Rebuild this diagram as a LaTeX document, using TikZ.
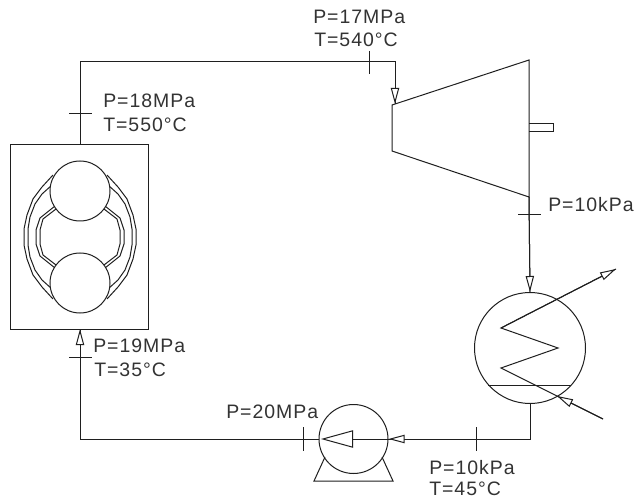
\documentclass[tikz,border=0pt]{standalone}
\usepackage{fontspec}
\setmainfont{Liberation Sans}[LetterSpace=5]
\usetikzlibrary{arrows.meta}
\definecolor{ink}{gray}{0.12}
\definecolor{labink}{gray}{0.2}
\tikzset{
  pipe/.style={draw=ink,line width=0.75pt,line join=miter},
  tick/.style={draw=ink,line width=0.75pt},
  flowtip/.style={pipe,-{Triangle[open,length=12pt,width=6.2pt,fill=white]}},
  vessel/.style={circle,draw=ink,line width=0.75pt,inner sep=0pt,minimum size=#1,fill=white},
  lab/.style={anchor=base west,inner sep=0pt,font=\fontsize{14.6pt}{16pt}\selectfont,text=labink},
}
\begin{document}
\begin{tikzpicture}[x=0.75pt,y=-0.75pt]
\useasboundingbox (0,0) rectangle (636,499);
\fill[white] (0,0) rectangle (636,499);

% named points
\coordinate (bTop) at (80,145);
\coordinate (bBot) at (80,329);
\coordinate (cTL) at (80,62);
\coordinate (cTR) at (395,62);
\coordinate (tIn) at (395,104);
\coordinate (tA) at (392,105);
\coordinate (tB) at (529,60);
\coordinate (tC) at (529,197);
\coordinate (tD) at (392,151);
\coordinate (cBR) at (530,439);
\coordinate (cBL) at (80,439);
\coordinate (pTip) at (321,439);
\coordinate (pBase) at (352,439);

% boiler
\node[draw=ink,line width=0.75pt,inner sep=0pt,minimum width=103pt,minimum height=138pt] (boiler) at (79.5,237) {};
\draw[ink,line width=1.2pt] (boiler.south west) -- (boiler.south east);
\foreach \s in {1,-1}{
  \begin{scope}[shift={(80,237)},xscale=\s]
    \draw[pipe] (-27,-62) -- (-38,-50) -- (-47,-38) -- (-53,-22) -- (-56,-8) -- (-56,8) -- (-53,22) -- (-47,38) -- (-38,50) -- (-27,62);
    \draw[pipe] (-28,-52) -- (-38,-43) -- (-45,-33) -- (-50,-20) -- (-52,-8) -- (-52,8) -- (-50,20) -- (-45,33) -- (-38,43) -- (-28,52);
    \draw[pipe] (-25,-31) -- (-40,-19) -- (-44,-7) -- (-44,7) -- (-40,19) -- (-25,31);
    \draw[pipe] (-24,-28) -- (-37,-18) -- (-40,-7) -- (-40,7) -- (-37,18) -- (-24,28);
  \end{scope}
}
\node[vessel=45pt] (drumA) at (80,191) {};
\node[vessel=45pt] (drumB) at (80,283) {};

% turbine
\draw[pipe] (tA) -- (tB) -- (tC) -- (tD) -- cycle;
\coordinate (sA) at (529,124);
\coordinate (sB) at (553,124);
\coordinate (sC) at (553,132);
\coordinate (sD) at (529,132);
\draw[pipe] (sA) -- (sB) -- (sC) -- (sD);

% condenser and pump
\node[vessel=83.25pt] (cond) at (530,348) {};
\node[vessel=51.75pt] (pump) at (353.5,439) {};
\coordinate (fA) at (325,457);
\coordinate (fB) at (314,481);
\coordinate (fC) at (393,481);
\coordinate (fD) at (382,457);
\draw[pipe] (fA) -- (fB) -- (fC) -- (fD);

% main circuit
\draw[pipe] (bTop) -- (cTL) -- (cTR) -- (tIn);
\draw[flowtip] (cTR) -- (tIn);
\draw[pipe] (tC) -- (cond.north);
\draw[flowtip] (tC) -- (cond.north);
\draw[pipe] (cond.south) -- (cBR) -- (pump.east);
\draw[flowtip] (cBR) -- (pump.east);
\draw[pipe] (pump.west) -- (cBL) -- (bBot);
\draw[flowtip] (cBL) -- (bBot);

% pump impeller
\draw[pipe] (pBase) -- (pump.east);
\draw[flowtip,-{Triangle[open,length=24pt,width=13pt,fill=white]}] (pBase) -- (pTip);

% cooling coil
\coordinate (cIn) at (603,419);
\coordinate (cIt) at (557,396);
\coordinate (c1) at (501,368);
\coordinate (c2) at (558,348);
\coordinate (c3) at (501,328);
\coordinate (cOut) at (616,269);
\draw[pipe] (cIn) -- (c1) -- (c2) -- (c3) -- (cOut);
\draw[flowtip] (cIn) -- (cIt);
\draw[flowtip] (c3) -- (cOut);
\coordinate (lA) at (488,385);
\coordinate (lB) at (571,385);
\draw[pipe] (lA) -- (lB);

% ticks
\foreach \n/\xa/\ya/\xb/\yb in {a/69/114/92/114, b/369/51/369/74, c/518/215/541/215, d/476/427/476/451, e/303/427/303/451, f/69/357/92/357}{
  \coordinate (t\n1) at (\xa,\ya);
  \coordinate (t\n2) at (\xb,\yb);
  \draw[tick] (t\n1) -- (t\n2);
}

% labels
\node[lab] (l1) at (313,24) {P=17MPa};
\node[lab] (l2) at (314,47) {T=540°C};
\node[lab] (l3) at (103,108) {P=18MPa};
\node[lab] (l4) at (103,132) {T=550°C};
\node[lab] (l5) at (548,212) {P=10kPa};
\node[lab] (l6) at (93,353) {P=19MPa};
\node[lab] (l7) at (94,376) {T=35°C};
\node[lab] (l8) at (226,418) {P=20MPa};
\node[lab] (l9) at (429,474) {P=10kPa};
\node[lab] (l10) at (429,495.5) {T=45°C};
\end{tikzpicture}
\end{document}
